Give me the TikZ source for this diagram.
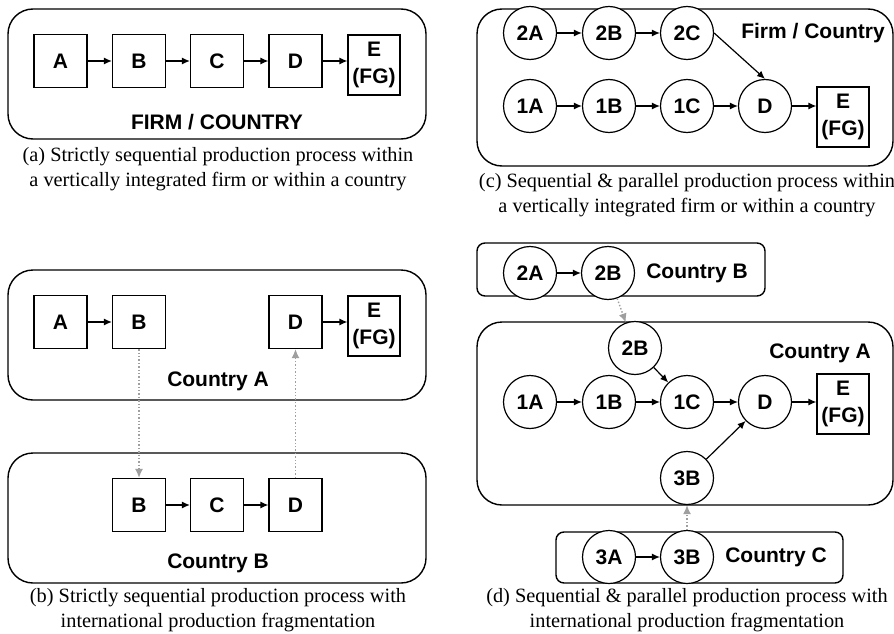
\documentclass[tikz,border=0pt]{standalone}
\usepackage{fontspec}
\setmainfont{Liberation Serif}
\setsansfont{Liberation Sans}
\usetikzlibrary{arrows.meta}

\begin{document}
\begin{tikzpicture}[x=1pt, y=-1pt,
	box/.style={draw, line width=1.2pt, minimum width=53pt, minimum height=53pt, inner sep=0pt,
		font=\sffamily\bfseries\fontsize{21}{27}\selectfont},
	fgbox/.style={box, minimum width=52pt, minimum height=60pt, align=center},
	stage/.style={draw, circle, fill=white, line width=1.2pt, minimum size=53pt, inner sep=0pt,
		font=\sffamily\bfseries\fontsize{21}{27}\selectfont},
	region/.style={draw, line width=1.4pt, rounded corners=25pt, inner sep=0pt},
	smallregion/.style={draw, line width=1.4pt, rounded corners=8pt, inner sep=0pt},
	tag/.style={font=\sffamily\bfseries\fontsize{21}{27}\selectfont},
	caption/.style={align=center, font=\fontsize{20.3}{24.5}\selectfont},
	flow/.style={-{Latex[length=8pt,width=7pt]}, line width=1.2pt},
	ship/.style={-{Latex[length=9pt,width=8pt]}, gray!75, dotted, line width=1.4pt}]
	\useasboundingbox (0,0) rectangle (894,634);

	% (a) one firm or country
	\node (firm) [region, minimum width=418pt, minimum height=130pt] at (217,74) {};
	\node (a1) [box] at (60.5,61) {A};
	\node (b1) [box] at (139,61) {B};
	\node (c1) [box] at (217,61) {C};
	\node (d1) [box] at (295.5,61) {D};
	\node (e1) [fgbox] at (374,65) {E\\(FG)};
	\node (firmtag) [tag] at (217,122) {FIRM / COUNTRY};
	\node (capa) [caption] at (218,169) {(a) Strictly sequential production process within\\a vertically integrated firm or within a country};
	\draw[flow] (a1) -- (b1);
	\draw[flow] (b1) -- (c1);
	\draw[flow] (c1) -- (d1);
	\draw[flow] (d1.east) -- (d1.east -| e1.west);

	% (b) two countries
	\node (ctryA) [region, minimum width=418pt, minimum height=130pt] at (217,335) {};
	\node (ctryB) [region, minimum width=418pt, minimum height=130pt] at (217,518) {};
	\node (a2) [box] at (60.5,322) {A};
	\node (b2) [box] at (139,322) {B};
	\node (d2) [box] at (295.5,322) {D};
	\node (e2) [fgbox] at (374,326) {E\\(FG)};
	\node (b3) [box] at (139,505) {B};
	\node (c3) [box] at (217,505) {C};
	\node (d3) [box] at (295.5,505) {D};
	\node (tagA) [tag] at (218,381) {Country A};
	\node (tagB) [tag] at (218,563) {Country B};
	\node (capb) [caption] at (218,610) {(b) Strictly sequential production process with\\international production fragmentation};
	\draw[flow] (a2) -- (b2);
	\draw[flow] (d2.east) -- (d2.east -| e2.west);
	\draw[flow] (b3) -- (c3);
	\draw[flow] (c3) -- (d3);
	\draw[ship] (b2) -- (b3);
	\draw[ship] (d3) -- (d2);

	% (c) parallel branches, one firm or country
	\node (firm2) [region, minimum width=416pt, minimum height=157pt] at (685,87.5) {};
	\node (p2a) [stage] at (530,33) {2A};
	\node (p2b) [stage] at (609,33) {2B};
	\node (p2c) [stage] at (687,33) {2C};
	\node (p1a) [stage] at (530,106) {1A};
	\node (p1b) [stage] at (609,106) {1B};
	\node (p1c) [stage] at (687,106) {1C};
	\node (pd) [stage] at (765,106) {D};
	\node (pe) [fgbox] at (843,117) {E\\(FG)};
	\node (firm2tag) [tag] at (813,33) {Firm / Country};
	\node (capc) [caption] at (687,195) {(c) Sequential \& parallel production process within\\a vertically integrated firm or within a country};
	\draw[flow] (p2a) -- (p2b);
	\draw[flow] (p2b) -- (p2c);
	\draw[flow] (p2c.east) -- (pd.north);
	\draw[flow] (p1a) -- (p1b);
	\draw[flow] (p1b) -- (p1c);
	\draw[flow] (p1c) -- (pd);
	\draw[flow] (pd.east) -- (pd.east -| pe.west);

	% (d) parallel branches over three countries
	\node (regB) [smallregion, minimum width=288pt, minimum height=53pt] at (621,269.5) {};
	\node (regA) [region, minimum width=416pt, minimum height=183pt] at (685,413.5) {};
	\node (regC) [smallregion, minimum width=287pt, minimum height=51pt] at (699.5,557.5) {};
	\node (q2a) [stage] at (530,273) {2A};
	\node (q2b) [stage] at (608,273) {2B};
	\node (q2bin) [stage] at (635,348) {2B};
	\node (q1a) [stage] at (530,402) {1A};
	\node (q1b) [stage] at (609,402) {1B};
	\node (q1c) [stage] at (687,402) {1C};
	\node (qd) [stage] at (765,402) {D};
	\node (qe) [fgbox] at (843,404) {E\\(FG)};
	\node (q3bin) [stage] at (687,478) {3B};
	\node (q3a) [stage] at (609,557) {3A};
	\node (q3b) [stage] at (687,557) {3B};
	\node (tagdB) [tag] at (697,273) {Country B};
	\node (tagdA) [tag] at (820,353) {Country A};
	\node (tagdC) [tag] at (776,557) {Country C};
	\node (capd) [caption] at (687,610) {(d) Sequential \& parallel production process with\\international production fragmentation};
	\draw[flow] (q2a) -- (q2b);
	\draw[flow] (q2bin) -- (q1c);
	\draw[flow] (q1a) -- (q1b);
	\draw[flow] (q1b) -- (q1c);
	\draw[flow] (q1c) -- (qd);
	\draw[flow] (qd.east) -- (qd.east -| qe.west);
	\draw[flow] (q3bin) -- (qd);
	\draw[flow] (q3a) -- (q3b);
	\draw[ship] (q2b) -- (q2bin);
	\draw[ship] (q3b) -- (q3bin);
\end{tikzpicture}
\end{document}
